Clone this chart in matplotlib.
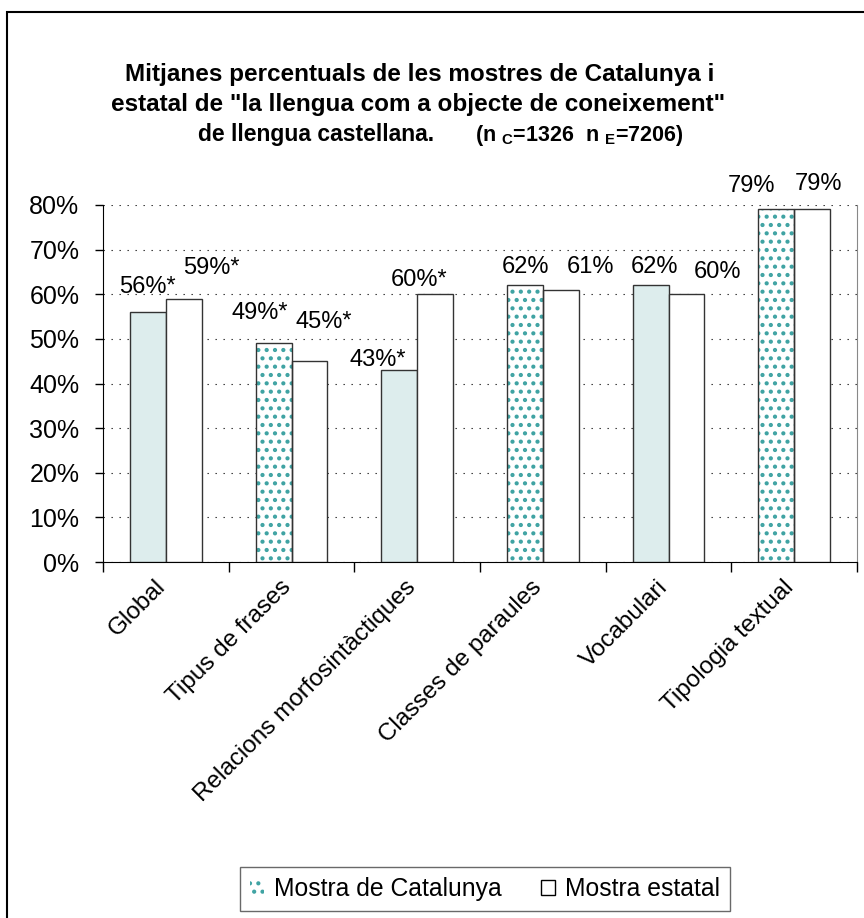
import numpy as np
import matplotlib.pyplot as plt
import matplotlib.patches as mpatches
import matplotlib.transforms as mtransforms

plt.rcParams['font.family'] = ['Liberation Sans', 'DejaVu Sans']
plt.rcParams['mathtext.fontset'] = 'custom'
plt.rcParams['mathtext.bf'] = 'Liberation Sans:bold'
plt.rcParams['mathtext.rm'] = 'Liberation Sans'
plt.rcParams['hatch.linewidth'] = 1.8

# data
categories = ['Global', 'Tipus de frases', 'Relacions morfosintàctiques',
              'Classes de paraules', 'Vocabulari', 'Tipologia textual']
catalunya = [56, 49, 43, 62, 62, 79]
estatal = [59, 45, 60, 61, 60, 79]
lbl_cat = ['56%*', '49%*', '43%*', '62%', '62%', '79%']
lbl_est = ['59%*', '45%*', '60%*', '61%', '60%', '79%']
series_names = ['Mostra de Catalunya', 'Mostra estatal']

# style / layout
cat_dotted = [False, True, False, True, False, True]
LIGHT = '#DDEDED'
TEAL = '#3FA3A3'
EDGE = '#333333'
# label offsets from bar top (pixels, dx, dy)
off_cat = [(0, 25), (-14, 30), (-21, 10), (1, 18), (4, 18), (-25, 23)]
off_est = [(28, 31), (14, 39), (-16, 14), (30, 23), (31, 22), (6, 25)]

W, H = 864, 918
fig = plt.figure(figsize=(W / 100, H / 100), dpi=100)
ax = fig.add_axes([103 / W, (H - 562) / H, (857 - 103) / W, (562 - 205) / H])

x = np.arange(len(categories))
w = 0.286

for i in range(len(categories)):
    if cat_dotted[i]:
        ax.bar(x[i] - w / 2, catalunya[i], w, color='white', edgecolor=TEAL,
               hatch='..', linewidth=0, zorder=3)
        ax.bar(x[i] - w / 2, catalunya[i], w, fill=False, edgecolor=EDGE,
               linewidth=1, zorder=4)
    else:
        ax.bar(x[i] - w / 2, catalunya[i], w, color=LIGHT, edgecolor=EDGE,
               linewidth=1, zorder=3)
ax.bar(x + w / 2, estatal, w, color='white', edgecolor=EDGE, linewidth=1, zorder=3)

for i in range(len(categories)):
    ax.annotate(lbl_cat[i], (x[i] - w / 2, catalunya[i]),
                xytext=(off_cat[i][0] * 0.72, off_cat[i][1] * 0.72),
                textcoords='offset points', ha='center', va='center',
                fontsize=17, zorder=5)
    ax.annotate(lbl_est[i], (x[i] + w / 2, estatal[i]),
                xytext=(off_est[i][0] * 0.72, off_est[i][1] * 0.72),
                textcoords='offset points', ha='center', va='center',
                fontsize=17, zorder=5)

ax.set_xlim(-0.5, len(categories) - 0.5)
ax.set_ylim(0, 80)
yt = np.arange(0, 81, 10)
ax.set_yticks(yt)
ax.set_yticklabels(['%d%%' % v for v in yt], fontsize=18)
ax.tick_params(axis='y', direction='out', length=6, width=1, pad=11)

ax.set_xticks(x)
ax.set_xticklabels(categories, rotation=45, ha='right', va='top',
                   rotation_mode='anchor', fontsize=17.5)
ax.tick_params(axis='x', which='major', length=0, pad=10)
shift = mtransforms.ScaledTranslation(-12 / 100, 0, fig.dpi_scale_trans)
for lab in ax.get_xticklabels():
    lab.set_transform(lab.get_transform() + shift)
ax.set_xticks(np.arange(-0.5, len(categories), 1), minor=True)
ax.tick_params(axis='x', which='minor', direction='out', length=7, width=1)

ax.yaxis.grid(True, color='#222222', linestyle=(0, (1.2, 6)), linewidth=0.8, zorder=1)
ax.set_axisbelow(True)
ax.spines['top'].set_visible(False)
ax.spines['right'].set_color('#888888')
ax.spines['left'].set_color('black')
ax.spines['bottom'].set_color('black')

# title
fig.text(420 / W, 1 - 75 / H, 'Mitjanes percentuals de les mostres de Catalunya i',
         ha='center', va='center', fontsize=17.5, fontweight='bold')
fig.text(418 / W, 1 - 105 / H, 'estatal de "la llengua com a objecte de coneixement"',
         ha='center', va='center', fontsize=17.5, fontweight='bold')
fig.text(198 / W, 1 - 135 / H, 'de llengua castellana.',
         ha='left', va='center', fontsize=16.5, fontweight='bold')
fig.text(475 / W, 1 - 135 / H, r'(n $_{\mathbf{C}}$=1326  n $_{\mathbf{E}}$=7206)',
         ha='left', va='center', fontsize=15.5, fontweight='bold')

# legend
h_cat = mpatches.Patch(facecolor='white', edgecolor=TEAL, hatch='..', linewidth=0)
h_est = mpatches.Patch(facecolor='white', edgecolor='black', linewidth=1)
leg = fig.legend([h_cat, h_est], series_names, loc='center',
                 bbox_to_anchor=(485 / W, 1 - 889 / H), ncol=2, fontsize=17.8,
                 fancybox=False, handlelength=0.55, handleheight=0.55,
                 handletextpad=0.4, columnspacing=1.6, borderpad=0.4,
                 borderaxespad=0)
leg.get_frame().set_edgecolor('#444444')
leg.get_frame().set_linewidth(1)

# outer frame
fig.patches.append(mpatches.Rectangle((7 / W, -0.05), 1.2, 1 - 12 / H + 0.05,
                                      transform=fig.transFigure, fill=False,
                                      edgecolor='black', linewidth=1.5))

fig.savefig('out.png', dpi=100)
